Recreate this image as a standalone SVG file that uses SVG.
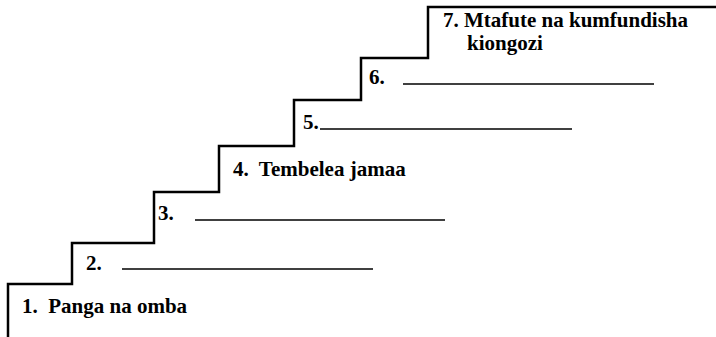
<svg xmlns="http://www.w3.org/2000/svg" width="716" height="337" viewBox="0 0 716 337">
<style>
.t{font-family:"Liberation Serif","Times New Roman",serif;font-weight:bold;font-size:21px;fill:#000;white-space:pre}
.stair{fill:none;stroke:#000;stroke-width:2.5}
.blank{stroke:#000;stroke-width:1.6}
</style>
<rect width="716" height="337" fill="#fff"/>
<g id="connectors">
<path class="stair" d="M8,337 V284 H72 V243 H154 V192 H219 V146 H294 V100 H361 V58 H428 V7 H716"/>
</g>
<g id="step1"><text class="t" x="22" y="313" xml:space="preserve">1.  Panga na omba</text></g>
<g id="step2"><text class="t" x="86" y="270">2.</text><line class="blank" x1="122" y1="269" x2="373" y2="269"/></g>
<g id="step3"><text class="t" x="158" y="220">3.</text><line class="blank" x1="195" y1="220" x2="445" y2="220"/></g>
<g id="step4"><text class="t" x="233" y="176" xml:space="preserve">4.  Tembelea jamaa</text></g>
<g id="step5"><text class="t" x="303" y="129">5.</text><line class="blank" x1="320" y1="129" x2="572" y2="129"/></g>
<g id="step6"><text class="t" x="369" y="84">6.</text><line class="blank" x1="403" y1="84" x2="654" y2="84"/></g>
<g id="step7"><text class="t"><tspan x="443" y="27">7. Mtafute na kumfundisha</tspan><tspan x="467" y="50">kiongozi</tspan></text></g>
</svg>
